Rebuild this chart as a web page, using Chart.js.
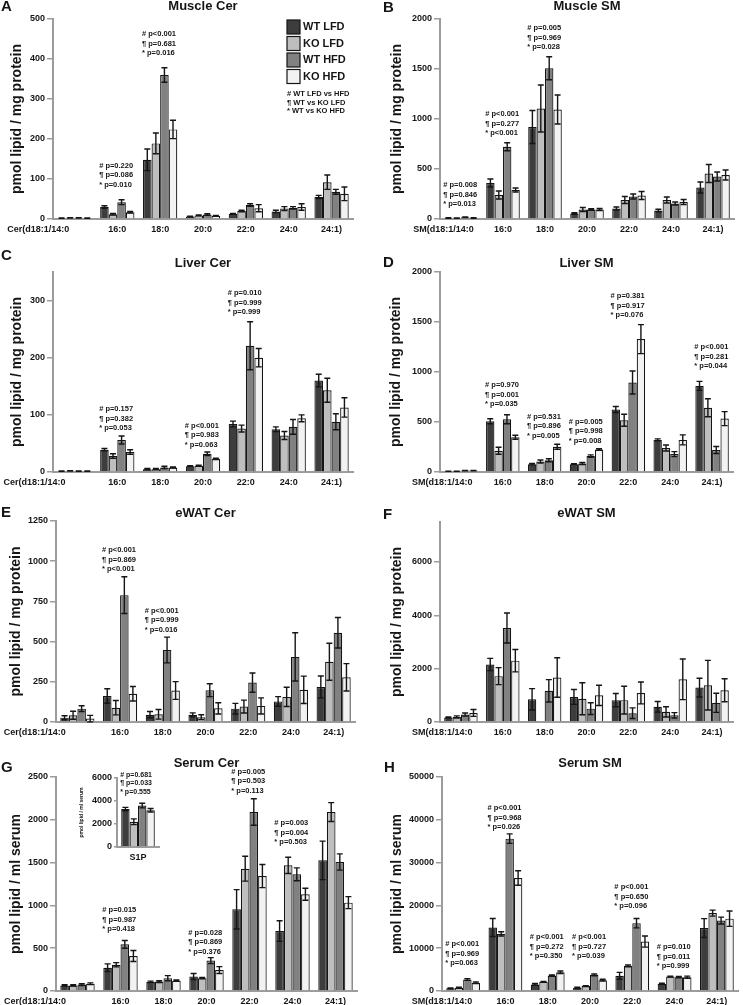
<!DOCTYPE html>
<html>
<head>
<meta charset="utf-8">
<title>Sphingolipid panels</title>
<script src="https://cdn.jsdelivr.net/npm/chart.js@4.4.1/dist/chart.umd.min.js"></script>
<style>
  html, body { margin: 0; padding: 0; background: #fff; }
  #fig { position: relative; width: 743px; height: 1005px; overflow: hidden; background: #fff; }
  #fig canvas { position: absolute; }
</style>
</head>
<body>
<div id="fig"></div>
<script>
// ── Data ──────────────────────────────────────────────────────────────────────

const GROUPS = ['WT LFD', 'KO LFD', 'WT HFD', 'KO HFD'];
const CER_LABELS = ['Cer(d18:1/14:0', '16:0', '18:0', '20:0', '22:0', '24:0', '24:1)'];
const SM_LABELS  = ['SM(d18:1/14:0', '16:0', '18:0', '20:0', '22:0', '24:0', '24:1)'];
const FOOTNOTES  = ['# WT LFD vs HFD', '¶ WT vs KO LFD', '* WT vs KO HFD'];

// y tick labels per panel
const MUSCLE_CER_TICKS = [0, 100, 200, 300, 400, 500];
const MUSCLE_SM_TICKS  = [0, 500, 1000, 1500, 2000];
const LIVER_CER_TICKS  = [0, 100, 200, 300];
const LIVER_SM_TICKS   = [0, 500, 1000, 1500, 2000];
const EWAT_CER_TICKS   = [0, 250, 500, 750, 1000, 1250];
const EWAT_SM_TICKS    = [0, 2000, 4000, 6000];
const SERUM_CER_TICKS  = [0, 500, 1000, 1500, 2000, 2500];
const SERUM_SM_TICKS   = [0, 10000, 20000, 30000, 40000, 50000];
const S1P_TICKS        = [0, 2000, 4000, 6000];

// rows = WT LFD, KO LFD, WT HFD, KO HFD ; columns = chain length
const MUSCLE_CER_MEAN = [
  [2, 30, 148, 6, 13, 19, 55],
  [3, 12, 189, 9, 20, 26, 92],
  [3, 42, 360, 11, 35, 28, 68],
  [2, 17, 224, 8, 27, 30, 63],
];
const MUSCLE_CER_SEM = [
  [0.5, 3, 27, 1, 1, 3, 4],
  [0.5, 2, 26, 1, 2, 5, 18],
  [0.5, 6, 18, 2, 3, 3, 6],
  [0.5, 2, 23, 1, 9, 8, 17],
];

const MUSCLE_SM_MEAN = [
  [10, 360, 920, 55, 105, 85, 315],
  [8, 240, 1105, 95, 190, 190, 455],
  [18, 723, 1507, 95, 225, 155, 425],
  [10, 290, 1095, 95, 235, 170, 440],
];
const MUSCLE_SM_SEM = [
  [2, 40, 165, 8, 15, 12, 55],
  [2, 40, 235, 20, 35, 30, 90],
  [3, 40, 115, 8, 25, 15, 45],
  [2, 20, 145, 10, 40, 25, 50],
];

const LIVER_CER_MEAN = [
  [1.5, 39, 5, 10, 84, 75, 160],
  [2, 28, 5, 11, 76, 64, 143],
  [1.5, 56, 8, 32, 221, 79, 88],
  [1.5, 35, 8, 23, 200, 94, 113],
];
const LIVER_CER_SEM = [
  [0.3, 2, 1, 1, 5, 4, 11],
  [0.3, 4, 1, 1, 6, 7, 21],
  [0.3, 7, 2, 3, 42, 13, 14],
  [0.3, 4, 1, 1, 16, 6, 17],
];

const LIVER_SM_MEAN = [
  [7, 507, 78, 78, 625, 321, 861],
  [7, 213, 105, 85, 517, 240, 642],
  [14, 527, 118, 159, 895, 179, 220],
  [14, 348, 253, 226, 1329, 321, 534],
];
const LIVER_SM_SEM = [
  [1, 25, 8, 5, 30, 10, 45],
  [1, 35, 15, 10, 60, 30, 90],
  [2, 45, 15, 12, 115, 25, 35],
  [2, 20, 25, 8, 145, 50, 70],
];

const EWAT_CER_MEAN = [
  [27, 162, 45, 45, 83, 128, 218],
  [42, 89, 48, 30, 96, 156, 375],
  [83, 789, 448, 198, 245, 405, 555],
  [21, 176, 196, 85, 100, 200, 278],
];
const EWAT_CER_SEM = [
  [12, 45, 20, 12, 33, 30, 68],
  [25, 45, 30, 15, 40, 60, 115],
  [18, 114, 80, 40, 60, 150, 95],
  [20, 45, 55, 35, 50, 85, 85],
];

const EWAT_SM_MEAN = [
  [170, 2155, 850, 940, 820, 570, 1290],
  [190, 1720, 40, 870, 820, 380, 1380],
  [280, 3525, 1170, 500, 330, 250, 720],
  [340, 2300, 1670, 1000, 1090, 1600, 1190],
];
const EWAT_SM_SEM = [
  [20, 230, 400, 280, 250, 200, 350],
  [40, 320, 0, 600, 520, 190, 930],
  [60, 560, 420, 220, 200, 100, 360],
  [130, 420, 740, 380, 410, 760, 430],
];

const SERUM_CER_MEAN = [
  [65, 272, 105, 170, 954, 700, 1526],
  [65, 307, 110, 150, 1429, 1468, 2091],
  [75, 545, 150, 355, 2091, 1363, 1507],
  [85, 409, 120, 245, 1343, 1130, 1032],
];
const SERUM_CER_SEM = [
  [8, 45, 10, 35, 230, 120, 225],
  [8, 25, 10, 8, 145, 95, 110],
  [10, 45, 30, 35, 155, 75, 95],
  [10, 65, 8, 40, 135, 70, 70],
];

const SERUM_SM_MEAN = [
  [615, 14850, 1540, 770, 3560, 1620, 14700],
  [770, 13350, 2150, 1150, 5880, 3380, 18200],
  [2690, 35600, 3600, 3770, 15850, 3230, 16450],
  [1920, 26400, 4380, 2540, 11550, 3230, 16900],
];
const SERUM_SM_SEM = [
  [100, 2100, 200, 100, 800, 200, 2200],
  [100, 500, 100, 100, 200, 100, 700],
  [200, 1100, 150, 200, 1100, 150, 800],
  [200, 1700, 300, 200, 1300, 250, 1800],
];

const S1P_LABELS = ['S1P'];
const S1P_MEAN = [3300, 2200, 3600, 3200];
const S1P_SEM  = [150, 250, 200, 150];

// p-value blocks: [category index, level of first line (data units), lines]
const MUSCLE_CER_P = [
  [1, 133, ['# p=0.220', '¶ p=0.086', '* p=0.010']],
  [2, 462, ['# p<0.001', '¶ p=0.681', '* p=0.016']],
];
const MUSCLE_SM_P = [
  [0, 340, ['# p=0.008', '¶ p=0.846', '* p=0.013']],
  [1, 1047, ['# p<0.001', '¶ p=0.277', '* p<0.001']],
  [2, 1907, ['# p=0.005', '¶ p=0.969', '* p=0.028']],
];
const LIVER_CER_P = [
  [1, 110, ['# p=0.157', '¶ p=0.382', '* p=0.053']],
  [3, 81, ['# p<0.001', '¶ p=0.983', '* p=0.063']],
  [4, 313, ['# p=0.010', '¶ p=0.999', '* p=0.999']],
];
const LIVER_SM_P = [
  [1, 870, ['# p=0.970', '¶ p=0.001', '* p=0.035']],
  [2, 553, ['# p=0.531', '¶ p=0.896', '* p=0.005']],
  [3, 503, ['# p=0.005', '¶ p=0.998', '* p=0.008']],
  [4, 1760, ['# p=0.381', '¶ p=0.917', '* p=0.076']],
  [6, 1250, ['# p<0.001', '¶ p=0.281', '* p=0.044']],
];
const EWAT_CER_P = [
  [1, 1070, ['# p<0.001', '¶ p=0.869', '* p<0.001']],
  [2, 692, ['# p<0.001', '¶ p=0.999', '* p=0.016']],
];
const SERUM_CER_P = [
  [1, 946, ['# p=0.015', '¶ p=0.987', '* p=0.418']],
  [3, 681, ['# p=0.028', '¶ p=0.869', '* p=0.376']],
  [4, 2562, ['# p=0.005', '¶ p=0.503', '* p=0.113']],
  [5, 1959, ['# p=0.003', '¶ p=0.004', '* p=0.503']],
];
const SERUM_SM_P = [
  [0, 10980, ['# p<0.001', '¶ p=0.969', '* p=0.063']],
  [1, 42750, ['# p<0.001', '¶ p=0.968', '* p=0.026']],
  [2, 12620, ['# p<0.001', '¶ p=0.272', '* p=0.350']],
  [3, 12620, ['# p<0.001', '¶ p=0.727', '* p=0.039']],
  [4, 24300, ['# p<0.001', '¶ p=0.650', '* p=0.096']],
  [5, 10280, ['# p=0.010', '¶ p=0.011', '* p=0.999']],
];
const S1P_P = [
  [0, 6260, ['# p=0.681', '¶ p=0.033', '* p=0.555']],
];

// ── Style ─────────────────────────────────────────────────────────────────────

const FONT     = "'Liberation Sans', Arial, Helvetica, sans-serif";
const INK      = '#151515';
const AXIS     = '#9c9c9c';
const BAR_FILL = ['#3d3d3d', '#bebebe', '#818181', '#f2f2f2'];

Chart.defaults.font.family = FONT;
Chart.defaults.font.weight = 'bold';
Chart.defaults.color = INK;

// ── Helpers ───────────────────────────────────────────────────────────────────

function makeCanvas(id, x, y, w, h) {
  const c = document.createElement('canvas');
  c.id = id;
  c.width = w;
  c.height = h;
  c.style.left = x + 'px';
  c.style.top = y + 'px';
  c.style.width = w + 'px';
  c.style.height = h + 'px';
  document.getElementById('fig').appendChild(c);
  return c;
}

// error bars, p-value blocks, panel letter and legend
function extras(p) {
  const [cx, cy] = p.box;
  return {
    id: 'extras',
    afterDatasetsDraw(chart) {
      const ctx = chart.ctx;
      const ys = chart.scales.y;
      ctx.save();
      ctx.strokeStyle = INK;
      ctx.lineWidth = 1.4;
      chart.data.datasets.forEach((ds, i) => {
        chart.getDatasetMeta(i).data.forEach((bar, j) => {
          const m = ds.data[j], e = ds.sem[j];
          if (!e) return;
          const top = ys.getPixelForValue(m + e);
          const bot = ys.getPixelForValue(Math.max(m - e, 0));
          ctx.beginPath();
          ctx.moveTo(bar.x, top); ctx.lineTo(bar.x, bot);
          ctx.moveTo(bar.x - 3, top); ctx.lineTo(bar.x + 3, top);
          ctx.moveTo(bar.x - 3, bot); ctx.lineTo(bar.x + 3, bot);
          ctx.stroke();
        });
      });

      ctx.fillStyle = INK;
      ctx.font = `bold ${p.noteSize || 7.5}px ${FONT}`;
      ctx.textAlign = 'left';
      ctx.textBaseline = 'middle';
      const first = chart.getDatasetMeta(0).data;
      (p.notes || []).forEach(([idx, level, lines]) => {
        const x = first[idx].x - first[idx].width / 2 - 1;
        const y0 = ys.getPixelForValue(level);
        lines.forEach((t, k) => ctx.fillText(t, x, y0 + k * (p.noteLine || 9.5)));
      });
      ctx.restore();
    },
    afterDraw(chart) {
      const ctx = chart.ctx;
      ctx.save();
      ctx.fillStyle = INK;
      ctx.textAlign = 'left';
      ctx.textBaseline = 'middle';
      if (p.letter) {
        const [t, lx, ly] = p.letter;
        ctx.font = `bold 15px ${FONT}`;
        ctx.fillText(t, lx - cx, ly - cy);
      }
      if (p.legend) {
        const ca = chart.chartArea;
        const lx = ca.right - 66;
        ctx.font = `bold 11px ${FONT}`;
        GROUPS.forEach((g, i) => {
          const yy = ca.top + 8 + i * 16.5;
          ctx.fillStyle = BAR_FILL[i];
          ctx.fillRect(lx, yy - 7, 13, 14);
          ctx.strokeStyle = INK;
          ctx.lineWidth = 1.2;
          ctx.strokeRect(lx, yy - 7, 13, 14);
          ctx.fillStyle = INK;
          ctx.fillText(g, lx + 16, yy);
        });
        ctx.font = `bold 7.5px ${FONT}`;
        FOOTNOTES.forEach((t, k) => ctx.fillText(t, lx, ca.top + 75 + k * 8.5));
      }
      ctx.restore();
    },
  };
}

function barPanel(p) {
  const [cx, cy, cw, ch] = p.box;
  const a = p.area;                       // chart area in page pixels
  const xH = p.xH ?? 17;
  const padTop = p.title ? Math.max(p.titleY - 6.5 - cy, 0) : a.t - cy;
  const titleGap = a.t - cy - padTop - 13;
  const labels = p.labels.map((l, i) => (i === 0 && p.firstPad) ? l + ' '.repeat(p.firstPad) : l);

  return new Chart(makeCanvas(p.id, cx, cy, cw, ch), {
    type: 'bar',
    data: {
      labels,
      datasets: GROUPS.map((g, i) => ({
        label: g,
        data: p.mean[i],
        sem: p.sem[i],
        backgroundColor: BAR_FILL[i],
        borderColor: INK,
        borderWidth: 1.2,
        categoryPercentage: 0.8,
        barPercentage: 1,
      })),
    },
    options: {
      responsive: false,
      animation: false,
      events: [],
      layout: {
        padding: { left: 0, right: cx + cw - a.r, top: padTop, bottom: cy + ch - a.b - xH },
      },
      plugins: {
        legend: { display: false },
        tooltip: { enabled: false },
        title: p.title ? {
          display: true,
          text: p.title,
          fullSize: false,
          color: INK,
          font: { size: 13, weight: 'bold', lineHeight: 1 },
          padding: { top: 0, bottom: titleGap },
        } : { display: false },
      },
      scales: {
        x: {
          offset: true,
          grid: { display: false, drawTicks: false, tickLength: 0 },
          border: { display: true, color: AXIS, width: 2 },
          ticks: {
            autoSkip: false, maxRotation: 0, minRotation: 0,
            padding: 5, color: INK,
            font: { size: 9, weight: 'bold' },
          },
          afterFit: s => { s.height = xH; s.paddingLeft = 0; s.paddingRight = 0; },
        },
        y: {
          min: 0,
          max: p.yMax,
          ticks: {
            autoSkip: false, padding: 2, color: INK,
            font: { size: 9, weight: 'bold' },
            callback: v => String(v),
          },
          afterBuildTicks: s => { s.ticks = p.ticks.map(v => ({ value: v })); },
          grid: {
            display: true, drawOnChartArea: false, drawTicks: true,
            tickLength: p.tickLen ?? 6, color: AXIS, lineWidth: 1.5,
          },
          border: { display: true, color: AXIS, width: 2 },
          title: {
            display: true,
            text: p.yTitle,
            color: INK,
            font: { size: p.yTitleSize ?? 14, weight: 'bold', lineHeight: 1.2 },
            padding: { top: p.yTitlePad, bottom: 0 },
          },
          afterFit: s => { s.width = a.l - cx; s.paddingTop = 0; s.paddingBottom = 0; },
        },
      },
    },
    plugins: [extras(p)],
  });
}

// ── Panels ────────────────────────────────────────────────────────────────────

const MG = 'pmol lipid / mg protein';
const ML = 'pmol lipid / ml serum';

barPanel({ id: 'pA', box: [0, 0, 370, 244], area: { l: 53, r: 353, t: 19, b: 219 },
  title: 'Muscle Cer', titleY: 6, letter: ['A', 1, 7], legend: true,
  labels: CER_LABELS, firstPad: 29, mean: MUSCLE_CER_MEAN, sem: MUSCLE_CER_SEM,
  yMax: 500, ticks: MUSCLE_CER_TICKS, yTitle: MG, yTitlePad: 8.6, notes: MUSCLE_CER_P });

barPanel({ id: 'pB', box: [370, 0, 373, 244], area: { l: 440, r: 734, t: 19, b: 219 },
  title: 'Muscle SM', titleY: 6, letter: ['B', 383, 8],
  labels: SM_LABELS, firstPad: 14, mean: MUSCLE_SM_MEAN, sem: MUSCLE_SM_SEM,
  yMax: 2000, ticks: MUSCLE_SM_TICKS, yTitle: MG, yTitlePad: 19.1, notes: MUSCLE_SM_P });

barPanel({ id: 'pC', box: [0, 242, 370, 250], area: { l: 53, r: 353, t: 272, b: 472 },
  title: 'Liver Cer', titleY: 263, letter: ['C', 1, 256],
  labels: CER_LABELS, firstPad: 32, mean: LIVER_CER_MEAN, sem: LIVER_CER_SEM,
  yMax: 350, ticks: LIVER_CER_TICKS, yTitle: MG, yTitlePad: 8.6, notes: LIVER_CER_P });

barPanel({ id: 'pD', box: [370, 242, 373, 250], area: { l: 440, r: 733, t: 272, b: 472 },
  title: 'Liver SM', titleY: 263, letter: ['D', 383, 263],
  labels: SM_LABELS, firstPad: 15, mean: LIVER_SM_MEAN, sem: LIVER_SM_SEM,
  yMax: 2000, ticks: LIVER_SM_TICKS, yTitle: MG, yTitlePad: 18.1, notes: LIVER_SM_P });

barPanel({ id: 'pE', box: [0, 485, 370, 257], area: { l: 56, r: 355, t: 521, b: 722 },
  title: 'eWAT Cer', titleY: 513, letter: ['E', 1, 513],
  labels: CER_LABELS, firstPad: 34, mean: EWAT_CER_MEAN, sem: EWAT_CER_SEM,
  yMax: 1250, ticks: EWAT_CER_TICKS, yTitle: MG, yTitlePad: 7.6, notes: EWAT_CER_P });

barPanel({ id: 'pF', box: [370, 485, 373, 257], area: { l: 440, r: 733, t: 522, b: 722 },
  title: 'eWAT SM', titleY: 513, letter: ['F', 383, 515],
  labels: SM_LABELS, firstPad: 15, mean: EWAT_SM_MEAN, sem: EWAT_SM_SEM,
  yMax: 7500, ticks: EWAT_SM_TICKS, yTitle: MG, yTitlePad: 19.1, notes: [] });

barPanel({ id: 'pG', box: [0, 735, 370, 280], area: { l: 56, r: 357, t: 777, b: 991 },
  title: 'Serum Cer', titleY: 763, letter: ['G', 1, 768],
  labels: CER_LABELS, firstPad: 34, mean: SERUM_CER_MEAN, sem: SERUM_CER_SEM,
  yMax: 2500, ticks: SERUM_CER_TICKS, yTitle: ML, yTitlePad: 7.6, notes: SERUM_CER_P });

barPanel({ id: 'pH', box: [370, 735, 373, 280], area: { l: 442, r: 738, t: 777, b: 991 },
  title: 'Serum SM', titleY: 763, letter: ['H', 384, 768],
  labels: SM_LABELS, firstPad: 17, mean: SERUM_SM_MEAN, sem: SERUM_SM_SEM,
  yMax: 50000, ticks: SERUM_SM_TICKS, yTitle: ML, yTitlePad: 19.1, notes: SERUM_SM_P });

// S1P inset inside panel G
barPanel({ id: 'pG_inset', box: [60, 765, 110, 102], area: { l: 117, r: 159, t: 778, b: 847 },
  xH: 18, labels: S1P_LABELS,
  mean: S1P_MEAN.map(v => [v]), sem: S1P_SEM.map(v => [v]),
  yMax: 6000, ticks: S1P_TICKS, tickLen: 3, yTitle: ML, yTitleSize: 5, yTitlePad: 19,
  notes: S1P_P, noteSize: 7, noteLine: 8.3 });
</script>
</body>
</html>
